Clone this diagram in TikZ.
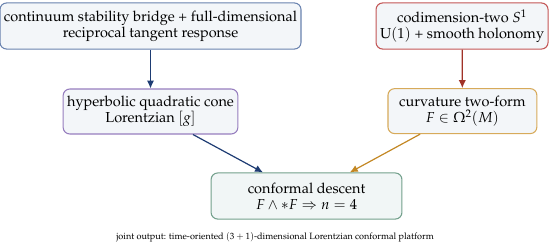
\documentclass[tikz,border=0pt]{standalone}
\usepackage{amsmath,amssymb}
\usepackage[T1]{fontenc}
\usepackage{mathpazo}
\usepackage{tikz}
\usetikzlibrary{positioning,calc}
\usetikzlibrary{arrows.meta}
\definecolor{BridgeBlue}{RGB}{105,130,175}
\definecolor{HoloRed}{RGB}{195,85,85}
\definecolor{ConePurple}{RGB}{150,125,190}
\definecolor{FormGold}{RGB}{215,170,90}
\definecolor{DescTeal}{RGB}{115,160,140}
\definecolor{PaleFill}{RGB}{243,246,249}
\definecolor{PaleTeal}{RGB}{241,246,246}
\definecolor{ArrBlue}{RGB}{30,60,115}
\definecolor{ArrRed}{RGB}{160,50,40}
\definecolor{ArrGold}{RGB}{195,135,35}
\tikzset{
  stage/.style={draw,fill=PaleFill,rounded corners=5pt,line width=0.8pt,
    align=center,inner sep=3pt,minimum height=1.22cm,
    font=\fontsize{10.9}{12.2}\selectfont},
  flow/.style={line width=0.9pt,-{Latex[length=6pt,width=5.5pt]}},
}
\begin{document}
\begin{tikzpicture}[scale=1]
\useasboundingbox (0,0) rectangle (14.552,-6.562);
\coordinate (pbridge) at (3.982,-0.688);
\coordinate (pholo) at (12.225,-0.688);
\coordinate (pcone) at (3.982,-2.950);
\coordinate (pform) at (12.235,-2.940);
\coordinate (pdesc) at (8.110,-5.186);
\coordinate (pjoint) at (7.277,-6.271);
\node[stage,draw=BridgeBlue,minimum width=7.80cm] (bridge) at (pbridge)
  {continuum stability bridge + full-dimensional\\reciprocal tangent response};
\node[stage,draw=HoloRed,minimum width=4.50cm] (holo) at (pholo)
  {codimension-two $S^1$\\U$(1)$ + smooth holonomy};
\node[stage,draw=ConePurple,minimum width=4.58cm,minimum height=1.19cm] (cone) at (pcone)
  {hyperbolic quadratic cone\\Lorentzian $[g]$};
\node[stage,draw=FormGold,minimum width=3.94cm,minimum height=1.19cm] (form) at (pform)
  {curvature two-form\\$F\in\Omega^2(M)$};
\node[stage,draw=DescTeal,fill=PaleTeal,minimum width=5.05cm] (desc) at (pdesc)
  {conformal descent\\$F\wedge *F\Rightarrow n=4$};
\node[font=\fontsize{6.85}{8}\selectfont] (joint) at (pjoint)
  {joint output: time-oriented $(3+1)$-dimensional Lorentzian conformal platform};
\draw[flow,ArrBlue] (bridge) -- (cone);
\draw[flow,ArrRed] (holo) -- (form);
\draw[flow,ArrBlue] (cone) -- (desc);
\draw[flow,ArrGold] (form) -- (desc);
\end{tikzpicture}
\end{document}
